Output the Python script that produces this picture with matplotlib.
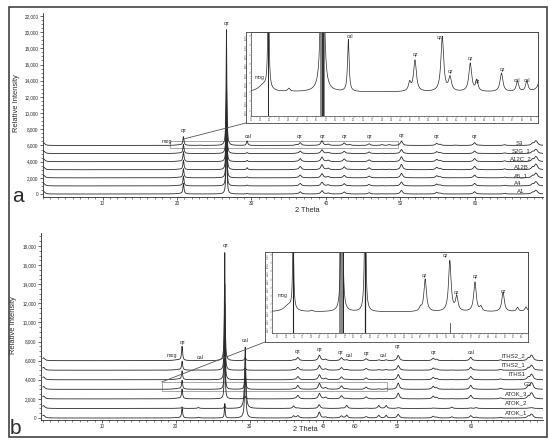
import numpy as np
import matplotlib.pyplot as plt
from matplotlib.patches import Rectangle, ConnectionPatch
from matplotlib.ticker import MultipleLocator, StrMethodFormatter

plt.rcParams['font.family'] = ['Liberation Sans', 'DejaVu Sans']

# --- reflections (2 theta, counts above baseline) ---
qz_major_pos = [20.86, 26.64]
qz_minor_pos = [36.54, 39.47, 40.29, 42.45, 45.79, 50.14, 54.87, 55.33, 59.96, 63.99, 67.74, 68.14, 68.32]
qz_minor_h = [335, 480, 146, 303, 200, 550, 250, 120, 350, 90, 250, 400, 280]
cal_main_pos = 29.41
cal_pos = [23.06, 35.97, 39.42, 43.16, 47.5, 48.5, 57.4, 60.7]
cal_rel = [0.05, 0.14, 0.18, 0.18, 0.17, 0.17, 0.08, 0.05]
mog_pos = 20.3
low_pos = 2.1

# panel a samples
a_names = ['S3', 'S2G_1', 'A12C_2', 'A12B', 'A5_1', 'A4', 'A1']
a_offset = [6000, 5000, 4000, 3000, 2000, 1000, 0]
a_qz26 = [14300, 9000, 8200, 9500, 8000, 8500, 10000]
a_qz21 = [1050, 1100, 1200, 1150, 1100, 1200, 1300]
a_minor = [1.0, 0.9, 1.1, 1.2, 1.0, 0.9, 0.8]
a_cal29 = [556, 120, 150, 250, 120, 100, 80]
a_calm = [650, 200, 200, 300, 200, 150, 150]
a_mog = [70, 60, 60, 60, 60, 60, 60]

# panel b samples
b_names = ['ITHS2_2', 'ITHS2_1', 'ITHS1', 'G3', 'ATOK_3', 'ATOK_2', 'ATOK_1']
b_offset = [6000, 5000, 4000, 3000, 2000, 1000, 0]
b_qz26 = [11300, 9000, 8000, 6500, 7000, 400, 1500]
b_qz21 = [1450, 900, 900, 900, 1000, 150, 1000]
b_minor = [1.0, 0.9, 1.0, 1.2, 1.1, 0.15, 0.7]
b_cal29 = [350, 250, 200, 1500, 250, 6400, 5000]
b_calm = [500, 400, 300, 300, 300, 1800, 1600]
b_mog = [90, 70, 70, 80, 70, 20, 40]

# annotation labels (text, 2theta, intensity)
a_ann = [('mog', 18.7, 6550), ('qz', 20.9, 7900), ('qz', 26.6, 21100), ('cal', 29.5, 7050),
         ('qz', 36.5, 7050), ('qz', 39.5, 7050), ('qz', 42.45, 7050), ('qz', 45.8, 7050),
         ('qz', 50.1, 7170), ('qz', 54.9, 7050), ('qz', 60.0, 7050)]
b_ann = [('mog', 19.5, 6490), ('qz', 21.0, 7950), ('cal', 23.3, 6380), ('qz', 26.7, 18000),
         ('cal', 29.4, 8060), ('qz', 36.5, 7010), ('qz', 39.5, 7120), ('qz', 42.3, 6900),
         ('cal', 43.5, 6590), ('qz', 45.8, 6700), ('cal', 48.1, 6490), ('qz', 50.1, 7530),
         ('qz', 54.9, 6900), ('cal', 60.0, 6900)]
a_lab_x = [66.0, 66.2, 66.2, 66.2, 66.2, 65.8, 66.2]
b_lab_x = [65.7, 65.7, 66.2, 67.7, 66.1, 66.1, 66.1]

# inset labels (text, 2theta, counts above baseline)
ia_ann = [('mog', 19.9, 160), ('cal', 29.6, 600), ('qz', 36.57, 407), ('qz', 39.14, 588),
          ('qz', 40.3, 225), ('qz', 42.45, 364), ('qz', 43.2, 118), ('qz', 45.9, 246),
          ('cal', 47.5, 118), ('cal', 48.55, 118)]
ib_ann = [('mog', 19.66, 198), ('qz', 36.4, 445), ('qz', 39.0, 692), ('qz', 40.2, 235),
          ('qz', 42.5, 432), ('qz', 45.8, 247)]

tt = np.arange(2.0, 70.0, 0.01)


def lor(x, pos, h, w):
    return h / (1 + ((x - pos) / (w / 2)) ** 2)


def pattern(off, h26, h21, minor, cal29, calm, mog):
    y = np.full_like(tt, float(off))
    y += lor(tt, qz_major_pos[1], h26, 0.12)
    y += lor(tt, qz_major_pos[0], h21, 0.17)
    for p, h in zip(qz_minor_pos, qz_minor_h):
        y += lor(tt, p, h * minor, 0.36)
    y += lor(tt, cal_main_pos, cal29, 0.2)
    for p, r in zip(cal_pos, cal_rel):
        y += lor(tt, p, calm * r, 0.3)
    y += lor(tt, mog_pos, mog, 1.2)
    y += lor(tt, low_pos, 300, 0.4)
    return y


def box(l, t, r, b):
    return [l / 550, 1 - b / 443, (r - l) / 550, (b - t) / 443]


ink = '#2b2b2b'
fig = plt.figure(figsize=(5.5, 4.43), dpi=100)


def style_main(ax, xlim, ylim):
    ax.set_xlim(*xlim)
    ax.set_ylim(*ylim)
    for s in ['top', 'right']:
        ax.spines[s].set_visible(False)
    for s in ['left', 'bottom']:
        ax.spines[s].set_linewidth(0.6)
        ax.spines[s].set_color(ink)
    ax.yaxis.set_major_locator(MultipleLocator(2000))
    ax.yaxis.set_minor_locator(MultipleLocator(500))
    ax.yaxis.set_major_formatter(StrMethodFormatter('{x:,.0f}'))
    ax.xaxis.set_major_locator(MultipleLocator(10))
    ax.xaxis.set_minor_locator(MultipleLocator(1))
    ax.tick_params(which='major', length=2.2, width=0.5, labelsize=3.3, pad=1, color=ink, labelcolor=ink)
    ax.tick_params(which='minor', length=1.1, width=0.4, color=ink)


def style_inset(frame, ax, xlim, ylim):
    frame.set_xticks([])
    frame.set_yticks([])
    for s in frame.spines.values():
        s.set_linewidth(0.6)
        s.set_color('#444')
    ax.set_xlim(*xlim)
    ax.set_ylim(*ylim)
    ax.set_facecolor('none')
    for s in ax.spines.values():
        s.set_linewidth(0.5)
        s.set_color('#444')
    ax.xaxis.set_major_locator(MultipleLocator(1))
    ax.xaxis.set_minor_locator(MultipleLocator(0.5))
    ax.yaxis.set_major_locator(MultipleLocator(100))
    ax.yaxis.set_minor_locator(MultipleLocator(25))
    ax.tick_params(which='major', length=1.2, width=0.3, labelsize=1.8, pad=0.5, color='#444', labelcolor='#555')
    ax.tick_params(which='minor', length=0.6, width=0.3, color='#444')
    ax.tick_params(axis='y', labelrotation=90)


def panel(ax, names, offset, h26, h21, minor, cal29, calm, mog, ann, lab_x, lab_dy):
    traces = []
    for i in range(len(names)):
        y = pattern(offset[i], h26[i], h21[i], minor[i], cal29[i], calm[i], mog[i])
        traces.append(y)
        ax.plot(tt, y, color=ink, lw=0.6)
        ax.text(lab_x[i], offset[i] + lab_dy, names[i], fontsize=4.3, ha='center', va='center', color=ink)
    for t, x, y in ann:
        ax.text(x, y, t, fontsize=3.8, ha='center', va='center', color=ink)
    return traces


# ---------------- panel a ----------------
ax_a = fig.add_axes(box(43, 13, 543, 197))
style_main(ax_a, (2.0, 69.15), (-370, 22370))
tr_a = panel(ax_a, a_names, a_offset, a_qz26, a_qz21, a_minor, a_cal29, a_calm, a_mog, a_ann, a_lab_x, 300)
ax_a.text(0.528, -0.071, '2 Theta', transform=ax_a.transAxes, fontsize=5.3, ha='center', va='center', color=ink)
ax_a.text(-0.052, 0.511, 'Relative Intensity', transform=ax_a.transAxes, fontsize=5.4, rotation=90,
          ha='center', va='center', color=ink)
ax_a.add_patch(Rectangle((19.1, 5720), 30.6, 810, fill=False, ec='#9a9a9a', lw=0.6))

fa = fig.add_axes(box(246, 32, 538, 123))
ia = fig.add_axes(box(251, 32, 538, 116))
style_inset(fa, ia, (19.0, 49.7), (6000 - 257, 6000 + 643))
ia.axvspan(26.35, 26.95, color='#8a8a8a', lw=0)
ia.axvline(26.62, color='#222', lw=0.6)
ia.axvline(26.75, color='#222', lw=0.6)
ia.axvline(20.86, color='#222', lw=0.7)
ia.plot(tt, tr_a[0], color=ink, lw=0.5)
for t, x, y in ia_ann:
    ia.text(x, 6000 + y, t, fontsize=3.6, ha='center', va='center', color=ink)
con = ConnectionPatch(xyA=(20.9, 6800), coordsA=ax_a.transData, xyB=(0, 0), coordsB=fa.transAxes,
                      color='#555', lw=0.6)
fig.add_artist(con)

# ---------------- panel b ----------------
ax_b = fig.add_axes(box(41, 233, 543, 419.5))
style_main(ax_b, (1.75, 69.75), (-157, 19360))
tr_b = panel(ax_b, b_names, b_offset, b_qz26, b_qz21, b_minor, b_cal29, b_calm, b_mog, b_ann, b_lab_x, 550)
ax_b.text(0.526, -0.056, '2 Theta', transform=ax_b.transAxes, fontsize=5.3, ha='center', va='center', color=ink)
ax_b.text(44.3, -0.035, '60', transform=ax_b.get_xaxis_transform(), fontsize=4.2, ha='center', va='center', color=ink)
ax_b.text(-0.054, 0.507, 'Relative Intensity', transform=ax_b.transAxes, fontsize=5.4, rotation=90,
          ha='center', va='center', color=ink)
ax_b.add_patch(Rectangle((18.1, 2830), 30.5, 940, fill=False, ec='#9a9a9a', lw=0.6))

fb = fig.add_axes(box(265, 252, 528, 342))
ib = fig.add_axes(box(272, 252, 528, 333))
style_inset(fb, ib, (18.35, 48.75), (3000 - 260, 3000 + 740))
ib.axvspan(26.25, 26.9, color='#8a8a8a', lw=0)
ib.axvline(26.8, color='#222', lw=0.7)
ib.axvline(20.86, color='#222', lw=0.8)
ib.axvline(29.41, color='#222', lw=0.9)
ib.plot([39.47, 39.47], [2740, 2860], color='#222', lw=0.5)
ib.plot(tt, tr_b[3], color=ink, lw=0.5)
for t, x, y in ib_ann:
    ib.text(x, 3000 + y, t, fontsize=3.6, ha='center', va='center', color=ink)
con = ConnectionPatch(xyA=(18.1, 3770), coordsA=ax_b.transData, xyB=(0, 0), coordsB=fb.transAxes,
                      color='#555', lw=0.6)
fig.add_artist(con)

# panel letters and outer frame
fig.text(18 / 550, 1 - 196 / 443, 'a', fontsize=15, ha='center', va='center', color=ink)
fig.text(15 / 550, 1 - 429 / 443, 'b', fontsize=15, ha='center', va='center', color=ink)
fig.add_artist(Rectangle((9 / 550, 1 - 437 / 443), 538 / 550, 430 / 443, transform=fig.transFigure,
                         fill=False, ec='#333', lw=1.1))

fig.savefig('out.png', dpi=100)
